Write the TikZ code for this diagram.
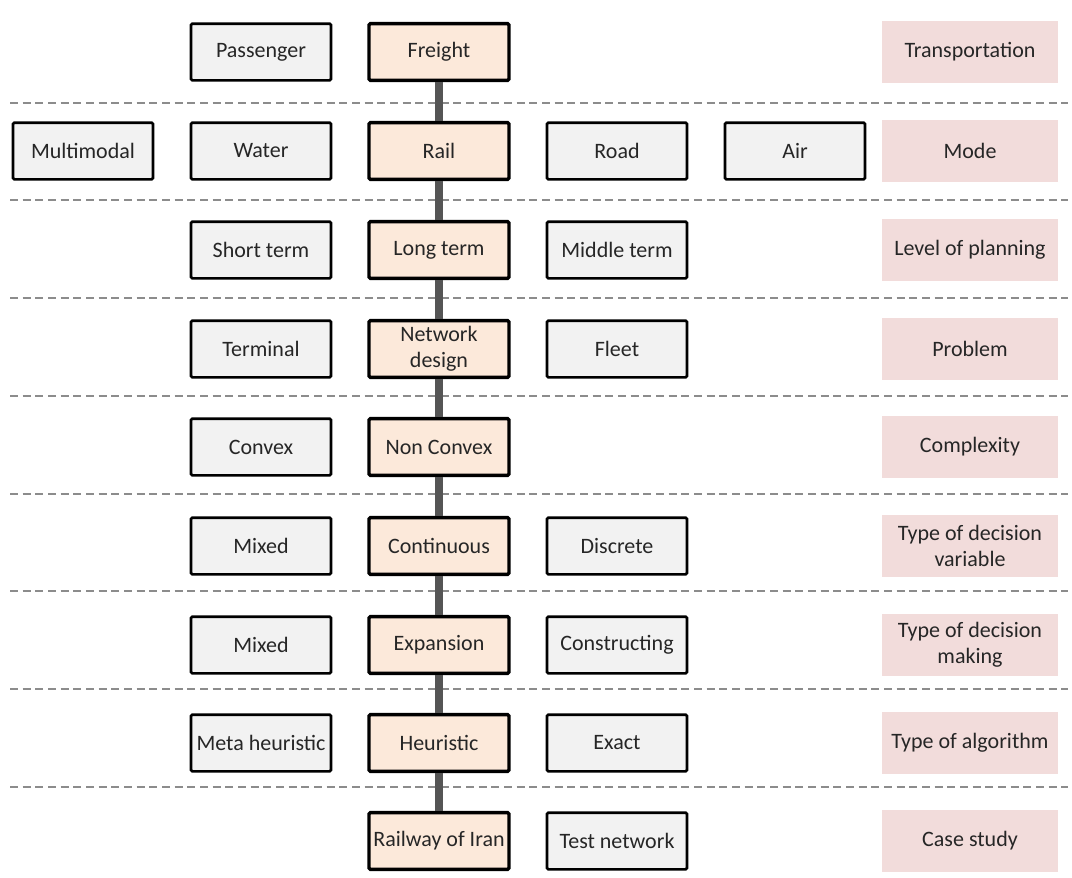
\documentclass[tikz,border=0pt]{standalone}
\usepackage{fontspec}
\setmainfont{Carlito}
\usepackage{tikz}

\definecolor{boxgrey}{HTML}{F2F2F2}
\definecolor{boxpeach}{HTML}{FCE9DA}
\definecolor{boxpink}{HTML}{F2DCDB}
\definecolor{linkgrey}{HTML}{555555}
\definecolor{sepgrey}{HTML}{8C8C8C}

\tikzset{
    opt/.style={draw=black, line width=2pt, fill=boxgrey, rounded corners=1pt,
        minimum width=105pt, minimum height=42.5pt, inner sep=0pt,
        align=center, font=\fontsize{16.5}{19.5}\selectfont, text=black!85},
    chosen/.style={opt, fill=boxpeach, line width=2.6pt},
    level/.style={fill=boxpink, minimum width=132.5pt, minimum height=47pt,
        inner sep=0pt, align=center, font=\fontsize{16.5}{19.5}\selectfont, text=black!85},
    link/.style={draw=linkgrey, line width=6pt},
    sep/.style={draw=sepgrey, line width=1.1pt, dash pattern=on 6pt off 3.5pt}
}

\begin{document}
\begin{tikzpicture}[x=0.75pt,y=-0.75pt]
                \useasboundingbox (0,0) rectangle (1072,878);
                % Draw the separating lines
                \foreach \y in {103,200,298,396,494,591,689,787} {
                    \draw[sep] (10,\y) -- (1068,\y);
                }
                % Draw the chosen path
                \node[chosen] (o1) at (439,52)  {Freight};
                \node[chosen] (o2) at (439,151) {Rail};
                \node[chosen] (o3) at (439,250) {Long term};
                \node[chosen] (o4) at (439,349) {Network\\design};
                \node[chosen] (o5) at (439,447) {Non Convex};
                \node[chosen] (o6) at (439,546) {Continuous};
                \node[chosen] (o7) at (439,645) {Expansion};
                \node[chosen] (o8) at (439,743) {Heuristic};
                \node[chosen] (o9) at (439,841) {Railway of Iran};
                \foreach \i [count=\j from 2] in {1,...,8} {
                    \draw[link] (o\i.south) -- (o\j.north);
                }
                % Draw the other options
                \node[opt] (passenger) at (261,52) {Passenger};
                \node[opt] (multimodal) at (83,151) {Multimodal};
                \node[opt] (water) at (261,151) {Water};
                \node[opt] (road) at (617,151) {Road};
                \node[opt] (air) at (795,151) {Air};
                \node[opt] (short) at (261,250) {Short term};
                \node[opt] (middle) at (617,250) {Middle term};
                \node[opt] (terminal) at (261,349) {Terminal};
                \node[opt] (fleet) at (617,349) {Fleet};
                \node[opt] (convex) at (261,447) {Convex};
                \node[opt] (mixedvar) at (261,546) {Mixed};
                \node[opt] (discrete) at (617,546) {Discrete};
                \node[opt] (mixedmake) at (261,645) {Mixed};
                \node[opt] (constructing) at (617,645) {Constructing};
                \node[opt] (meta) at (261,743) {Meta heuristic};
                \node[opt] (exact) at (617,743) {Exact};
                \node[opt] (test) at (617,841) {Test network};
                % Draw the levels
                \node[level] (l1) at (970,52)  {Transportation};
                \node[level] (l2) at (970,151) {Mode};
                \node[level] (l3) at (970,250) {Level of planning};
                \node[level] (l4) at (970,349) {Problem};
                \node[level] (l5) at (970,447) {Complexity};
                \node[level] (l6) at (970,546) {Type of decision\\variable};
                \node[level] (l7) at (970,645) {Type of decision\\making};
                \node[level] (l8) at (970,743) {Type of algorithm};
                \node[level] (l9) at (970,841) {Case study};
            \end{tikzpicture}
\end{document}
